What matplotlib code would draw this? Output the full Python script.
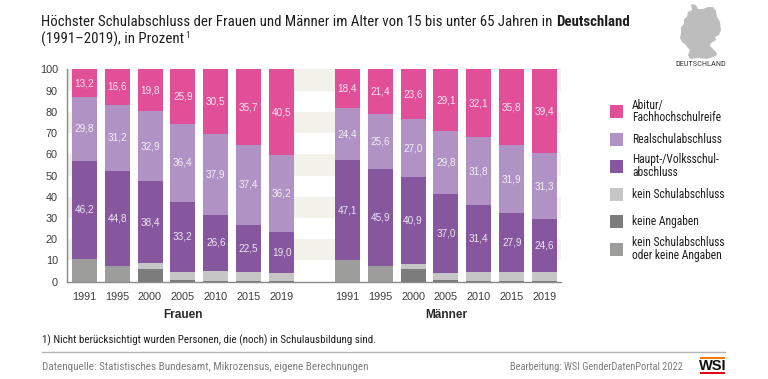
import numpy as np
import matplotlib
matplotlib.use("Agg")
import matplotlib.pyplot as plt
from matplotlib.patches import Polygon, Rectangle

W, H = 768, 379
NARROW = ["Roboto Condensed", "Archivo Narrow", "Liberation Sans"]
SANS = "Liberation Sans"

years = ["1991", "1995", "2000", "2005", "2010", "2015", "2019"]
groups = ["Frauen", "Männer"]

# Frauen
f_abitur = [13.2, 16.6, 19.8, 25.9, 30.5, 35.7, 40.5]
f_real = [29.8, 31.2, 32.9, 36.4, 37.9, 37.4, 36.2]
f_haupt = [46.2, 44.8, 38.4, 33.2, 26.6, 22.5, 19.0]
f_kein = [0, 0, 2.9, 3.9, 4.5, 3.9, 4.2]
f_angaben = [0, 0, 6.0, 0.6, 0.5, 0.5, 0.1]
f_beides = [10.8, 7.4, 0, 0, 0, 0, 0]

# Maenner
m_abitur = [18.4, 21.4, 23.6, 29.1, 32.1, 35.8, 39.4]
m_real = [24.4, 25.6, 27.0, 29.8, 31.8, 31.9, 31.3]
m_haupt = [47.1, 45.9, 40.9, 37.0, 31.4, 27.9, 24.6]
m_kein = [0, 0, 2.7, 3.5, 4.2, 3.9, 4.5]
m_angaben = [0, 0, 5.8, 0.6, 0.5, 0.5, 0.2]
m_beides = [10.1, 7.3, 0, 0, 0, 0, 0]

legend_labels = [
    "Abitur/\nFachhochschulreife",
    "Realschulabschluss",
    "Haupt-/Volksschul-\nabschluss",
    "kein Schulabschluss",
    "keine Angaben",
    "kein Schulabschluss\noder keine Angaben",
]
COL_ABITUR = "#e04f97"
COL_REAL = "#b093c4"
COL_HAUPT = "#86569e"
COL_KEIN = "#c6c6c6"
COL_ANGABEN = "#7c7c7c"
COL_BEIDES = "#9d9d9b"
legend_colors = [COL_ABITUR, COL_REAL, COL_HAUPT, COL_KEIN, COL_ANGABEN, COL_BEIDES]

# outline of the little map, in picture pixels
germany = [
    (691, 4), (696, 5), (698, 9), (703, 9), (708, 7), (713, 7), (716, 11), (717, 17),
    (720, 22), (721, 30), (719, 35), (715, 37), (716, 40), (711, 43), (710, 46),
    (714, 50), (717, 53), (716, 56), (713, 57), (707, 59), (698, 58), (690, 59),
    (688, 55), (690, 50), (687, 47), (686, 45), (682, 42), (680, 38), (681, 33),
    (681, 27), (684, 24), (684, 19), (687, 17), (688, 12), (692, 10),
]


def px_rect(x0, y0, x1, y1):
    return [x0 / W, 1 - y1 / H, (x1 - x0) / W, (y1 - y0) / H]


fig = plt.figure(figsize=(W / 100, H / 100), dpi=100, facecolor="white")

bg = fig.add_axes([0, 0, 1, 1])
bg.set_xlim(0, W)
bg.set_ylim(H, 0)
bg.axis("off")

ax = fig.add_axes(px_rect(67, 69.3, 561, 281.7))
ax.set_xlim(67, 561)
ax.set_ylim(0, 100)
for lo in range(10, 100, 20):
    ax.axhspan(lo, lo + 10, color="#f3f2ea", lw=0, zorder=0)

x_f = 84.2 + 32.9 * np.arange(7)
x_m = 347.2 + 32.9 * np.arange(7)
bar_w = 25
series_f = [f_beides, f_angaben, f_kein, f_haupt, f_real, f_abitur]
series_m = [m_beides, m_angaben, m_kein, m_haupt, m_real, m_abitur]
cols = [COL_BEIDES, COL_ANGABEN, COL_KEIN, COL_HAUPT, COL_REAL, COL_ABITUR]

for xs, series in [(x_f, series_f), (x_m, series_m)]:
    # white gaps between the bars hide the stripes
    ax.axvspan(xs[0] - bar_w / 2, xs[-1] + bar_w / 2, color="white", lw=0, zorder=1)
    bottom = np.zeros(7)
    for i, (vals, c) in enumerate(zip(series, cols)):
        vals = np.array(vals)
        ax.bar(xs, vals, bar_w, bottom=bottom, color=c, lw=0, zorder=2)
        if i >= 3:
            for x, b, v in zip(xs, bottom, vals):
                ax.text(x, b + v / 2, f"{v:.1f}".replace(".", ","), color="white", alpha=0.85,
                        ha="center", va="center", fontsize=7.2, family=SANS, zorder=3)
        bottom += vals

ax.set_xticks(np.concatenate([x_f, x_m]))
ax.set_xticklabels(years + years)
ax.set_yticks(np.arange(0, 101, 10))
ax.tick_params(axis="both", length=0, labelsize=7.8, labelcolor="#3c3c3c")
ax.tick_params(axis="x", pad=7.5)
ax.tick_params(axis="y", pad=6.5)
for t in ax.get_xticklabels() + ax.get_yticklabels():
    t.set_family(SANS)
for s in ["top", "right"]:
    ax.spines[s].set_visible(False)
for s in ["left", "bottom"]:
    ax.spines[s].set_color("#8a8a8a")
    ax.spines[s].set_linewidth(1.0)

bg.text(183, 315.5, groups[0], fontsize=8.6, fontweight="bold", family=SANS, color="#2a2a2a", ha="center", va="center")
bg.text(446, 315.5, groups[1], fontsize=8.6, fontweight="bold", family=SANS, color="#2a2a2a", ha="center", va="center")

# title
t1 = bg.text(41, 21.5, "Höchster Schulabschluss der Frauen und Männer im Alter von 15 bis unter 65 Jahren in",
             fontsize=10.75, family=NARROW, color="#1e1e1e", va="center")
fig.canvas.draw()
bb = t1.get_window_extent()
bg.text(bb.x1 + 4, 21.5, "Deutschland", fontsize=10.75, family=NARROW, fontweight="bold", color="#1e1e1e", va="center")
t2 = bg.text(41, 39, "(1991–2019), in Prozent", fontsize=10.75, family=NARROW, color="#1e1e1e", va="center")
fig.canvas.draw()
bb = t2.get_window_extent()
bg.text(bb.x1 + 1.5, 35.5, "1", fontsize=6.2, family=NARROW, color="#1e1e1e", va="center")

# map
bg.add_patch(Polygon(germany, closed=True, fc="#bdbdbd", ec="none"))
bg.text(701, 64.5, "DEUTSCHLAND", fontsize=6, family=NARROW, color="#3c3c3c", ha="center", va="center")

# legend
leg_y = [111.5, 139.5, 166, 194, 221.5, 249]
for y, lab, c in zip(leg_y, legend_labels, legend_colors):
    bg.add_patch(Rectangle((610, y - 6.5), 12.5, 13, fc=c, ec="none"))
    bg.text(632, y, lab, fontsize=8.3, family=NARROW, color="#1e1e1e", va="center", linespacing=0.95)

# footer
bg.text(42, 340.5, "1) Nicht berücksichtigt wurden Personen, die (noch) in Schulausbildung sind.",
        fontsize=7.9, family=NARROW, color="#1e1e1e", va="center")
bg.plot([42, 725], [352, 352], color="#b4b4b4", lw=1)
bg.text(42, 367, "Datenquelle: Statistisches Bundesamt, Mikrozensus, eigene Berechnungen",
        fontsize=8.0, family=NARROW, color="#7d7d7d", va="center")
bg.text(683, 367, "Bearbeitung: WSI GenderDatenPortal 2022", fontsize=7.5, family=NARROW,
        color="#7d7d7d", va="center", ha="right")

# logo
bg.add_patch(Rectangle((700, 356.5), 25, 2.2, fc="#ef7d00", ec="none"))
bg.add_patch(Rectangle((700, 372), 25, 2.2, fc="#e2001a", ec="none"))
bg.text(712.5, 365.5, "WSI", fontsize=10.5, fontweight="bold", family=SANS, color="#111111", ha="center", va="center")

fig.savefig("out.png", dpi=100)
